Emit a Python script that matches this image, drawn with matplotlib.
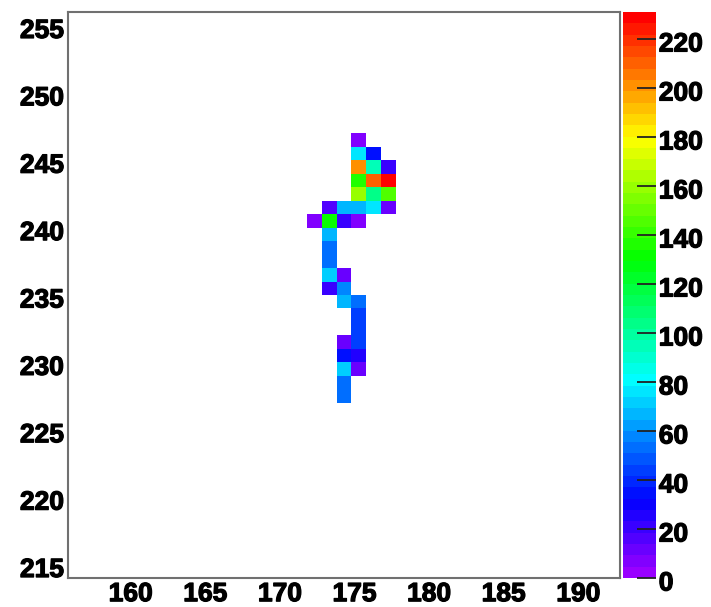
import colorsys
import numpy as np
import matplotlib
matplotlib.use('Agg')
import matplotlib.pyplot as plt
import matplotlib.transforms as mtransforms
import matplotlib.patheffects as pe
from matplotlib.colors import ListedColormap

# bin lower edges (x, y) and bin content
cell_x = [175,
          175, 176,
          175, 176, 177,
          175, 176, 177,
          175, 176, 177,
          173, 174, 175, 176, 177,
          172, 173, 174, 175,
          173, 173, 173,
          173, 174,
          173, 174,
          174, 175,
          175, 175,
          174, 175,
          174, 175,
          174, 175,
          174, 174]
cell_y = [246,
          245, 245,
          244, 244, 244,
          243, 243, 243,
          242, 242, 242,
          241, 241, 241, 241, 241,
          240, 240, 240, 240,
          239, 238, 237,
          236, 236,
          235, 235,
          234, 234,
          233, 232,
          231, 231,
          230, 230,
          229, 229,
          228, 227]
cell_val = [8,
            75, 35,
            200, 95, 20,
            135, 212, 231,
            160, 105, 145,
            15, 68, 65, 78, 10,
            6, 130, 22, 8,
            65, 55, 55,
            72, 10,
            20, 58,
            68, 55,
            45, 45,
            10, 42,
            35, 25,
            72, 10,
            55, 55]

x_edges = np.arange(156, 194)
y_edges = np.arange(214, 257)
x_ticks = [160, 165, 170, 175, 180, 185, 190]
y_ticks = [215, 220, 225, 230, 235, 240, 245, 250, 255]
z_ticks = list(range(0, 221, 20))
z_max = 231

# ROOT-like rainbow palette, 50 steps from violet to red
pal = [colorsys.hls_to_rgb(h / 360.0, 0.5, 1.0) for h in np.linspace(276, 0, 50)]
cmap = ListedColormap(pal)

plt.rcParams['font.family'] = ['Liberation Sans', 'DejaVu Sans']
plt.rcParams['font.weight'] = 'bold'

fig = plt.figure(figsize=(7.11, 6.07), dpi=100)
ax = fig.add_axes([68/711, 29/607, 552/711, 566/607])
cax = fig.add_axes([623/711, 29/607, 33/711, 566/607])

xc = np.array(cell_x) + 0.5
yc = np.array(cell_y) + 0.5
h = ax.hist2d(xc, yc, bins=[x_edges, y_edges], weights=cell_val,
              cmap=cmap, vmin=0, vmax=z_max, cmin=0.5)

ax.set_xlim(156, 193)
ax.set_ylim(214, 256)
ax.set_xticks(x_ticks)
ax.set_yticks(y_ticks)
ax.tick_params(axis='both', length=0, labelsize=19)
ax.tick_params(axis='x', pad=3)
ax.tick_params(axis='y', pad=3)
for s in ax.spines.values():
    s.set_color('#707070')
    s.set_linewidth(1.5)

cb = fig.colorbar(h[3], cax=cax)
cb.set_ticks(z_ticks)
cb.outline.set_visible(False)
cax.tick_params(axis='y', direction='in', length=13.5, width=1.3,
                color='#222222', labelsize=19, pad=2)

stroke = [pe.withStroke(linewidth=0.9, foreground='black')]
down = mtransforms.ScaledTranslation(0, -3/100, fig.dpi_scale_trans)
right = mtransforms.ScaledTranslation(3/100, 0, fig.dpi_scale_trans)
for lab in ax.get_yticklabels():
    lab.set_path_effects(stroke)
    lab.set_transform(lab.get_transform() + down)
for lab in ax.get_xticklabels():
    lab.set_path_effects(stroke)
    lab.set_transform(lab.get_transform() + right)
for lab in cax.get_yticklabels():
    lab.set_path_effects(stroke)
    lab.set_transform(lab.get_transform() + down)

fig.savefig('out.png', dpi=100, facecolor='white')
